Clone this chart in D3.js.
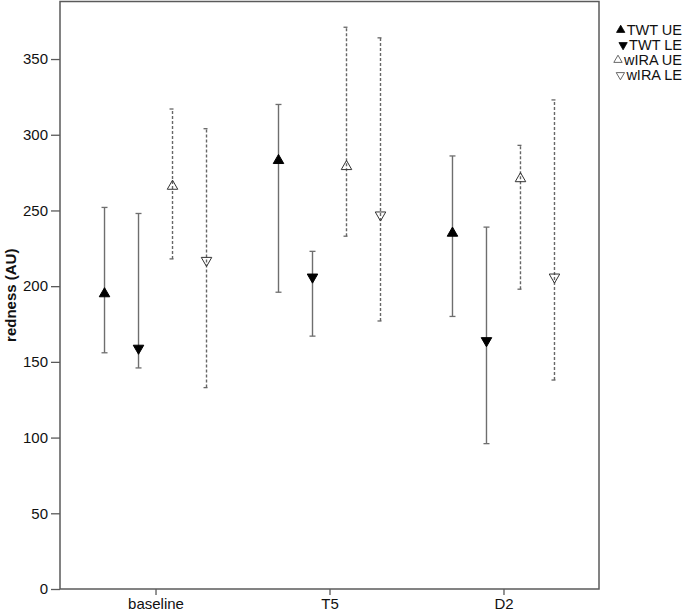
<!DOCTYPE html>
<html>
<head>
<meta charset="utf-8">
<script src="https://cdn.jsdelivr.net/npm/d3@7"></script>
<style>
    body { margin: 0; background: #fff; }
    text { font-family: "Liberation Sans", Arial, sans-serif; }
</style>
</head>
<body>
<svg id="chart" width="685" height="613"></svg>
<script>
// categories and series
var categories = ['baseline', 'T5', 'D2'];
var seriesNames = ['TWT UE', 'TWT LE', 'wIRA UE', 'wIRA LE'];

// means, lower and upper ends of the bars, one array per series (baseline, T5, D2)
var meanTwtUE = [195, 283, 235];
var meanTwtLE = [159, 206, 164];
var meanWiraUE = [266, 279, 271];
var meanWiraLE = [217, 247, 206];

var lowTwtUE = [156, 196, 180];
var lowTwtLE = [146, 167, 96];
var lowWiraUE = [218, 233, 198];
var lowWiraLE = [133, 177, 138];

var highTwtUE = [252, 320, 286];
var highTwtLE = [248, 223, 239];
var highWiraUE = [317, 371, 293];
var highWiraLE = [304, 364, 323];

var yTicks = [0, 50, 100, 150, 200, 250, 300, 350];

var means = [meanTwtUE, meanTwtLE, meanWiraUE, meanWiraLE];
var lows = [lowTwtUE, lowTwtLE, lowWiraUE, lowWiraLE];
var highs = [highTwtUE, highTwtLE, highWiraUE, highWiraLE];

var svg = d3.select('#chart');
var plotLeft = 60, plotRight = 599, plotTop = 1.5, plotBottom = 589;
var axisColor = '#5a5a5a';

var y = d3.scaleLinear().domain([0, 388]).range([plotBottom, plotTop]);
var x = d3.scalePoint().domain(categories).range([plotLeft, plotRight]).padding(0.549);
var xOff = d3.scalePoint().domain(seriesNames).range([-51, 51]);

// frame
svg.append('rect')
    .attr('x', plotLeft).attr('y', plotTop)
    .attr('width', plotRight - plotLeft).attr('height', plotBottom - plotTop)
    .attr('fill', 'none').attr('stroke', axisColor).attr('stroke-width', 1.5);

// y axis
var yAxis = svg.append('g')
    .attr('transform', 'translate(' + plotLeft + ',0)')
    .call(d3.axisLeft(y).tickValues(yTicks).tickSize(9).tickPadding(3).tickSizeOuter(0));
yAxis.select('.domain').remove();
yAxis.selectAll('line').attr('stroke', axisColor).attr('stroke-width', 1.3);
yAxis.selectAll('text').attr('fill', '#111').style('font-size', '15px');

// x axis
var xAxis = svg.append('g')
    .attr('transform', 'translate(0,' + plotBottom + ')')
    .call(d3.axisBottom(x).tickSize(6).tickPadding(3).tickSizeOuter(0));
xAxis.select('.domain').remove();
xAxis.selectAll('line').attr('stroke', axisColor).attr('stroke-width', 1.3);
xAxis.selectAll('text').attr('fill', '#111').style('font-size', '15px');

// y label
svg.append('text')
    .attr('transform', 'translate(16,' + ((plotTop + plotBottom) / 2) + ') rotate(-90)')
    .attr('text-anchor', 'middle')
    .style('font-size', '15px')
    .style('font-weight', 'bold')
    .attr('fill', '#111')
    .text('redness (AU)');

var triUp = d3.symbol().type(d3.symbolTriangle).size(48);

seriesNames.forEach(function (name, s) {
    var open = s >= 2;
    var down = s % 2 === 1;
    var g = svg.append('g').attr('class', 'series');
    var rows = categories.map(function (c, i) {
        return { c: c, m: means[s][i], lo: lows[s][i], hi: highs[s][i] };
    });
    var dash = open ? '3,2' : null;
    var lineColor = open ? '#666' : '#6e6e6e';

    g.selectAll('line.bar').data(rows).enter().append('line')
        .attr('x1', function (d) { return x(d.c) + xOff(name); })
        .attr('x2', function (d) { return x(d.c) + xOff(name); })
        .attr('y1', function (d) { return y(d.lo); })
        .attr('y2', function (d) { return y(d.hi); })
        .attr('stroke', lineColor).attr('stroke-width', 1.4)
        .attr('stroke-dasharray', dash);

    ['lo', 'hi'].forEach(function (k) {
        g.selectAll('line.cap' + k).data(rows).enter().append('line')
            .attr('x1', function (d) { return x(d.c) + xOff(name) - 3; })
            .attr('x2', function (d) { return x(d.c) + xOff(name) + (open ? 1 : 3); })
            .attr('y1', function (d) { return y(d[k]); })
            .attr('y2', function (d) { return y(d[k]); })
            .attr('stroke', lineColor).attr('stroke-width', 1.3);
    });

    g.selectAll('path.mark').data(rows).enter().append('path')
        .attr('d', triUp)
        .attr('transform', function (d) {
            return 'translate(' + (x(d.c) + xOff(name)) + ',' + y(d.m) + ')' + (down ? ' rotate(180)' : '');
        })
        .attr('fill', open ? 'none' : '#000')
        .attr('stroke', open ? '#333' : '#000')
        .attr('stroke-width', 1);
});

// legend, text right-aligned against the window edge
var legend = svg.append('g').attr('transform', 'translate(682,30)');
var legTri = d3.symbol().type(d3.symbolTriangle).size(30);
seriesNames.forEach(function (name, s) {
    var open = s >= 2;
    var row = legend.append('g').attr('transform', 'translate(0,' + (s * 15) + ')');
    var label = row.append('text')
        .attr('x', 0).attr('y', 5.3)
        .attr('text-anchor', 'end')
        .style('font-size', '14.5px')
        .attr('fill', '#111')
        .text(name);
    var w = label.node().getComputedTextLength();
    row.append('path')
        .attr('d', legTri)
        .attr('transform', 'translate(' + (-w - 6) + ',0)' + (s % 2 === 1 ? ' rotate(180)' : ''))
        .attr('fill', open ? '#fff' : '#000')
        .attr('stroke', open ? '#444' : '#000')
        .attr('stroke-width', 0.8);
});
</script>
</body>
</html>
